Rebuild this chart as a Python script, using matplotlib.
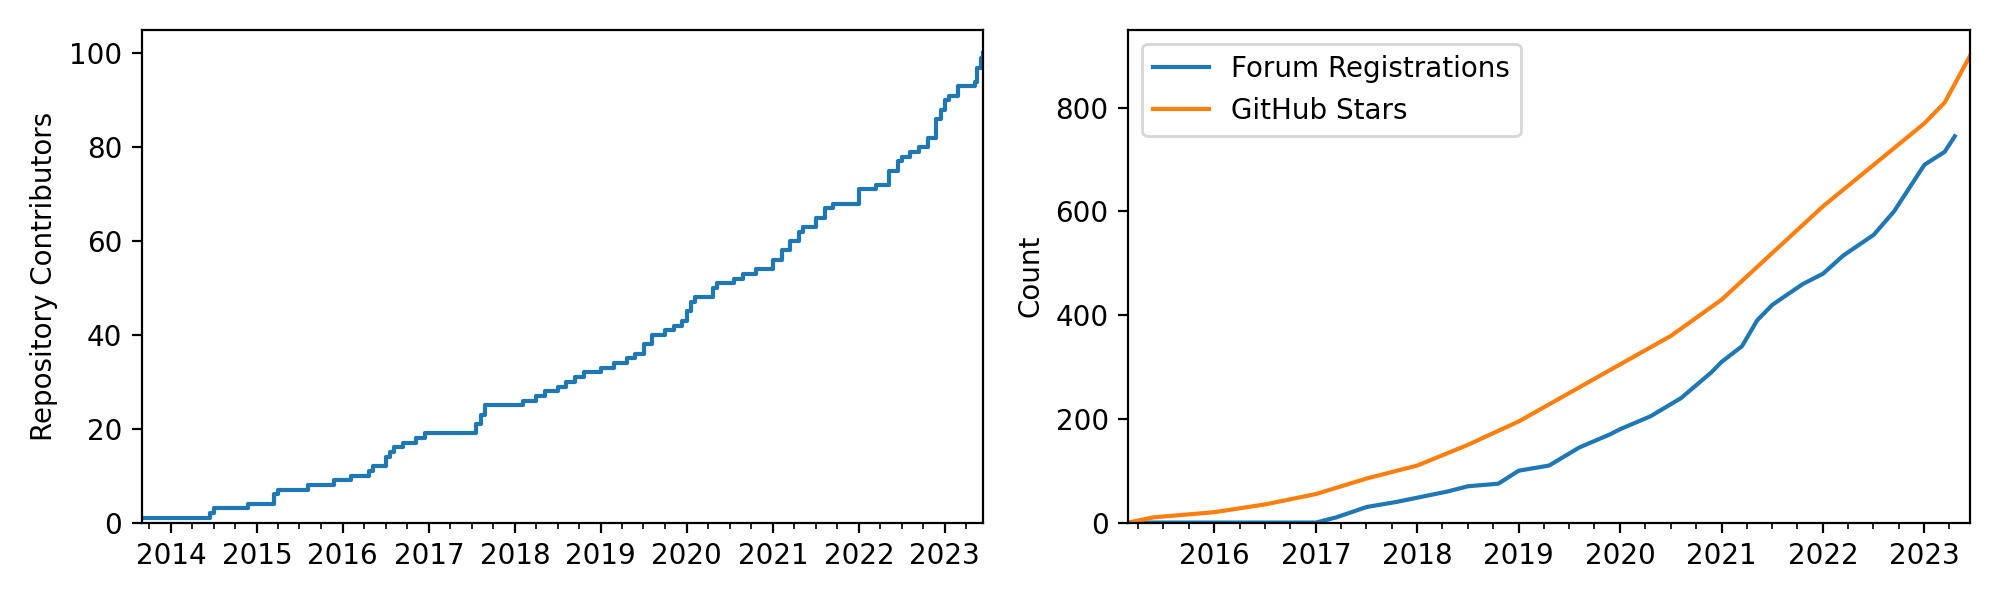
import datetime as dt
import matplotlib
matplotlib.use("Agg")
import matplotlib.pyplot as plt
import matplotlib.dates as mdates

# contributors (decimal year, count)
contrib_t = [2013.66, 2014.45, 2014.5, 2014.9, 2015.2, 2015.25, 2015.6, 2015.9, 2016.1, 2016.3, 2016.35,
             2016.5, 2016.55, 2016.6, 2016.7, 2016.85, 2016.95, 2017.55, 2017.6, 2017.65, 2018.1, 2018.25,
             2018.35, 2018.5, 2018.6, 2018.7, 2018.8, 2019.0, 2019.15, 2019.3, 2019.4, 2019.5, 2019.6,
             2019.75, 2019.85, 2019.95, 2020.0, 2020.05, 2020.1, 2020.3, 2020.35, 2020.55, 2020.65, 2020.8,
             2021.0, 2021.1, 2021.2, 2021.3, 2021.35, 2021.5, 2021.6, 2021.7, 2022.0, 2022.2, 2022.35,
             2022.45, 2022.5, 2022.6, 2022.7, 2022.8, 2022.9, 2022.95, 2023.0, 2023.05, 2023.15, 2023.35,
             2023.38, 2023.42, 2023.45]
contrib_n = [1, 2, 3, 4, 6, 7, 8, 9, 10, 11, 12, 14, 15, 16, 17, 18, 19, 21, 23, 25, 26, 27, 28, 29, 30,
             31, 32, 33, 34, 35, 36, 38, 40, 41, 42, 43, 45, 47, 48, 50, 51, 52, 53, 54, 56, 58, 60, 62,
             63, 65, 67, 68, 71, 72, 75, 77, 78, 79, 80, 82, 86, 88, 90, 91, 93, 94, 97, 99, 100]

forum_t = [2015.15, 2016.0, 2017.0, 2017.2, 2017.5, 2017.8, 2018.0, 2018.3, 2018.5, 2018.8, 2019.0, 2019.3,
           2019.6, 2019.9, 2020.0, 2020.3, 2020.6, 2020.9, 2021.0, 2021.2, 2021.35, 2021.5, 2021.8, 2022.0,
           2022.2, 2022.5, 2022.7, 2022.9, 2023.0, 2023.2, 2023.3]
forum_n = [0, 0, 0, 10, 30, 40, 48, 60, 70, 75, 100, 110, 145, 170, 180, 205, 240, 290, 310, 340, 390,
           420, 460, 480, 515, 555, 600, 660, 690, 715, 745]

stars_t = [2015.15, 2015.4, 2016.0, 2016.5, 2017.0, 2017.5, 2018.0, 2018.5, 2019.0, 2019.5, 2020.0,
           2020.5, 2021.0, 2021.5, 2022.0, 2022.5, 2023.0, 2023.2, 2023.45]
stars_n = [0, 10, 20, 35, 55, 85, 110, 150, 195, 250, 305, 360, 430, 520, 610, 690, 770, 810, 900]


def to_date(y):
    year = int(y)
    start = dt.datetime(year, 1, 1)
    return start + (dt.datetime(year + 1, 1, 1) - start) * (y - year)


fig, (ax1, ax2) = plt.subplots(1, 2, figsize=(10, 3), dpi=200)

ax1.plot([to_date(t) for t in contrib_t], contrib_n, drawstyle="steps-post", color="C0")
ax1.set_ylabel("Repository Contributors")
ax1.set_ylim(0, 105)
ax1.set_xlim(to_date(2013.66), to_date(2023.45))

ax2.plot([to_date(t) for t in forum_t], forum_n, color="C0", label="Forum Registrations")
ax2.plot([to_date(t) for t in stars_t], stars_n, color="C1", label="GitHub Stars")
ax2.set_ylabel("Count")
ax2.set_ylim(0, 950)
ax2.set_xlim(to_date(2015.15), to_date(2023.45))
ax2.legend(loc="upper left")

for ax in (ax1, ax2):
    ax.xaxis.set_major_locator(mdates.YearLocator())
    ax.xaxis.set_major_formatter(mdates.DateFormatter("%Y"))
    ax.xaxis.set_minor_locator(mdates.MonthLocator(bymonth=[4, 7, 10]))

fig.tight_layout()
fig.savefig("out.png")
